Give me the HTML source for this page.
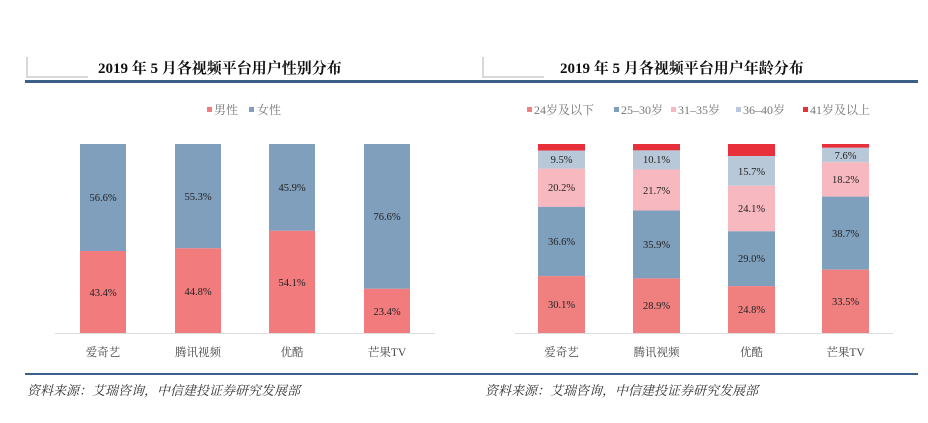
<!DOCTYPE html>
<html><head><meta charset="utf-8"><style>
html,body{margin:0;padding:0;background:#fff;}
svg{display:block;}
text{font-family:"Liberation Serif","Noto Serif CJK SC",serif;}
</style></head><body>
<svg width="928" height="423" viewBox="0 0 928 423" xmlns="http://www.w3.org/2000/svg">
<path d="M27 57 V77 H88" fill="none" stroke="#ccc" stroke-width="1.5"/>
<path d="M483 57 V77 H544" fill="none" stroke="#ccc" stroke-width="1.5"/>
<text x="98" y="73" font-size="15" font-weight="bold" fill="#111">2019 年 5 月各视频平台用户性别分布</text>
<text x="560" y="73" font-size="15" font-weight="bold" fill="#111">2019 年 5 月各视频平台用户年龄分布</text>
<rect x="25" y="80" width="893" height="3" fill="#3b5f86"/>
<rect x="207" y="107" width="5" height="5" fill="#f27b7e"/>
<text x="214" y="114" font-size="12" fill="#777">男性</text>
<rect x="249" y="107" width="5" height="5" fill="#7f9fbc"/>
<text x="257" y="114" font-size="12" fill="#777">女性</text>
<g font-size="10.5" fill="#222" text-anchor="middle">
<rect x="80" y="144" width="46" height="107" fill="#7f9fbc"/><rect x="80" y="251" width="46" height="82" fill="#f27b7e"/>
<text x="103" y="201">56.6%</text><text x="103" y="296">43.4%</text>
<rect x="175" y="144" width="46" height="104.3" fill="#7f9fbc"/><rect x="175" y="248.3" width="46" height="84.7" fill="#f27b7e"/>
<text x="198" y="200">55.3%</text><text x="198" y="295">44.8%</text>
<rect x="269" y="144" width="46" height="86.8" fill="#7f9fbc"/><rect x="269" y="230.8" width="46" height="102.2" fill="#f27b7e"/>
<text x="292" y="191">45.9%</text><text x="292" y="286">54.1%</text>
<rect x="364" y="144" width="46" height="144.8" fill="#7f9fbc"/><rect x="364" y="288.8" width="46" height="44.2" fill="#f27b7e"/>
<text x="387" y="220">76.6%</text><text x="387" y="315">23.4%</text>
</g>
<line x1="55" y1="333.5" x2="435" y2="333.5" stroke="#ddd"/>
<g font-size="11.5" fill="#444" text-anchor="middle">
<text x="103" y="356">爱奇艺</text><text x="198" y="356">腾讯视频</text><text x="292" y="356">优酷</text><text x="387" y="356">芒果TV</text>
</g>
<g font-size="12" fill="#777">
<rect x="527" y="107" width="5" height="5" fill="#f08080"/><text x="534" y="114">24岁及以下</text>
<rect x="614" y="107" width="5" height="5" fill="#7fa0bd"/><text x="621" y="114">25–30岁</text>
<rect x="671" y="107" width="5" height="5" fill="#f7b8bf"/><text x="678" y="114">31–35岁</text>
<rect x="736" y="107" width="5" height="5" fill="#b8c8d8"/><text x="743" y="114">36–40岁</text>
<rect x="803" y="107" width="5" height="5" fill="#e8303a"/><text x="810" y="114">41岁及以上</text>
</g>
<g font-size="10.5" fill="#222" text-anchor="middle">
<rect x="538" y="144" width="47" height="6.7" fill="#e8303a"/>
<rect x="538" y="150.7" width="47" height="18" fill="#b8c8d8"/>
<rect x="538" y="168.7" width="47" height="38.2" fill="#f7b8bf"/>
<rect x="538" y="206.9" width="47" height="69.2" fill="#7fa0bd"/>
<rect x="538" y="276.1" width="47" height="56.9" fill="#f08080"/>
<text x="561.5" y="163">9.5%</text><text x="561.5" y="191">20.2%</text><text x="561.5" y="245">36.6%</text><text x="561.5" y="308">30.1%</text>
<rect x="633" y="144" width="47" height="6.4" fill="#e8303a"/>
<rect x="633" y="150.4" width="47" height="19.1" fill="#b8c8d8"/>
<rect x="633" y="169.5" width="47" height="41" fill="#f7b8bf"/>
<rect x="633" y="210.5" width="47" height="67.9" fill="#7fa0bd"/>
<rect x="633" y="278.4" width="47" height="54.6" fill="#f08080"/>
<text x="656.5" y="163">10.1%</text><text x="656.5" y="194">21.7%</text><text x="656.5" y="248">35.9%</text><text x="656.5" y="309">28.9%</text>
<rect x="728" y="144" width="47" height="12.1" fill="#e8303a"/>
<rect x="728" y="156.1" width="47" height="29.7" fill="#b8c8d8"/>
<rect x="728" y="185.8" width="47" height="45.5" fill="#f7b8bf"/>
<rect x="728" y="231.3" width="47" height="54.8" fill="#7fa0bd"/>
<rect x="728" y="286.1" width="47" height="46.9" fill="#f08080"/>
<text x="751.5" y="175">15.7%</text><text x="751.5" y="212">24.1%</text><text x="751.5" y="262">29.0%</text><text x="751.5" y="313">24.8%</text>
<rect x="822" y="144" width="47" height="3.8" fill="#e8303a"/>
<rect x="822" y="147.8" width="47" height="14.4" fill="#b8c8d8"/>
<rect x="822" y="162.2" width="47" height="34.4" fill="#f7b8bf"/>
<rect x="822" y="196.6" width="47" height="73.1" fill="#7fa0bd"/>
<rect x="822" y="269.7" width="47" height="63.3" fill="#f08080"/>
<text x="845.5" y="159">7.6%</text><text x="845.5" y="183">18.2%</text><text x="845.5" y="237">38.7%</text><text x="845.5" y="305">33.5%</text>
</g>
<line x1="515" y1="333.5" x2="893" y2="333.5" stroke="#ddd"/>
<g font-size="11.5" fill="#444" text-anchor="middle">
<text x="561.5" y="356">爱奇艺</text><text x="656.5" y="356">腾讯视频</text><text x="751.5" y="356">优酷</text><text x="845.5" y="356">芒果TV</text>
</g>
<rect x="25" y="373" width="893" height="2" fill="#3b5f86"/>
<g font-size="13" font-style="italic" fill="#333">
<text x="27" y="395">资料来源：艾瑞咨询，中信建投证券研究发展部</text>
<text x="485" y="395">资料来源：艾瑞咨询，中信建投证券研究发展部</text>
</g>
</svg>
</body></html>
